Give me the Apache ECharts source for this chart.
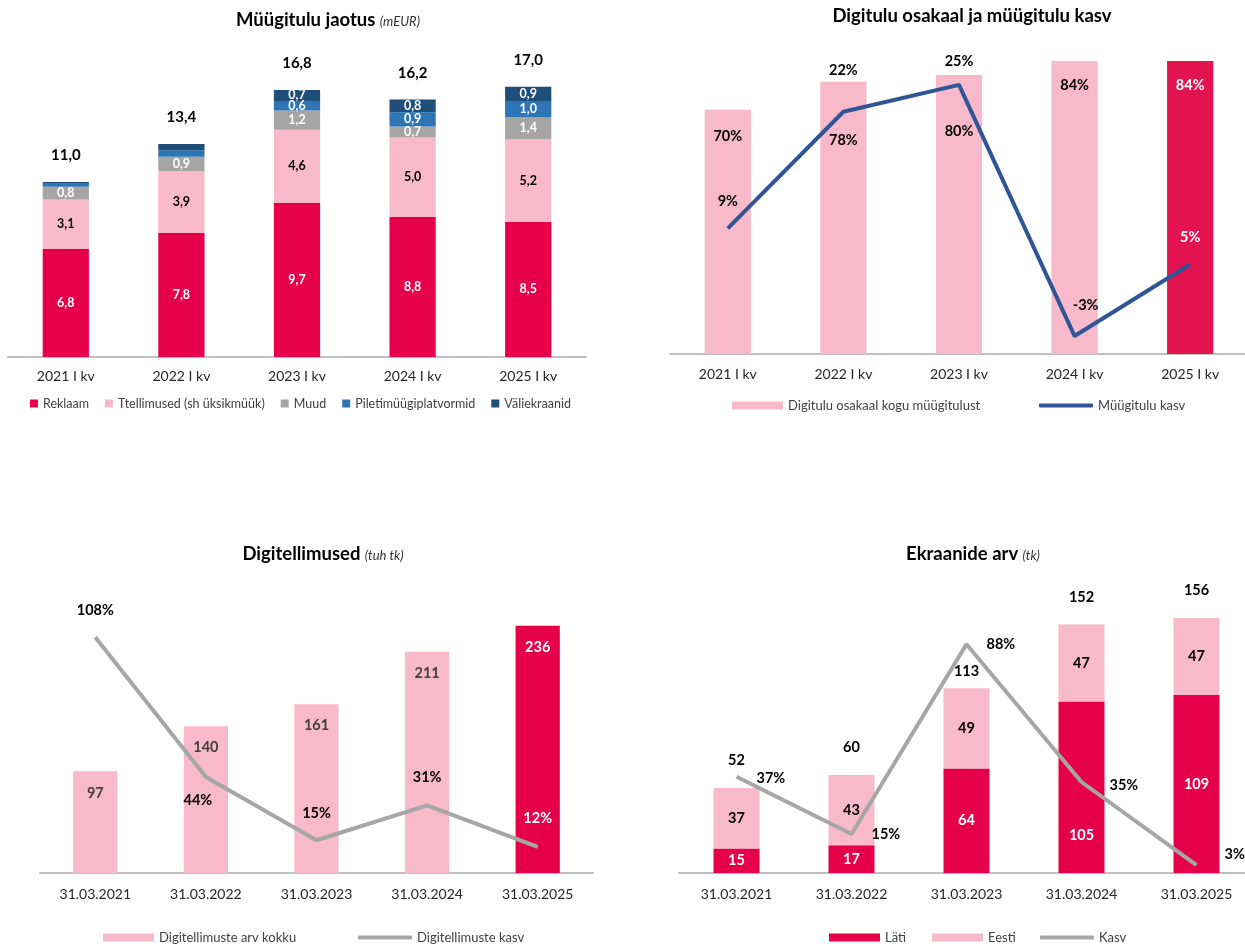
<!DOCTYPE html>
<html>
<head>
<meta charset="utf-8">
<script src="https://cdn.jsdelivr.net/npm/echarts@6/dist/echarts.min.js"></script>
<style>html,body{margin:0;padding:0;background:#fff}#c{width:1245px;height:944px}</style>
</head>
<body>
<div id="c"></div>
<script>
// ---------- DATA ----------
// Chart 1: Müügitulu jaotus (mEUR)
const quarters = ['2021 I kv', '2022 I kv', '2023 I kv', '2024 I kv', '2025 I kv'];
const reklaam = [6.8, 7.8, 9.7, 8.8, 8.5];
const tellimused = [3.1, 3.9, 4.6, 5.0, 5.2];
const muud = [0.8, 0.9, 1.2, 0.7, 1.4];
const piletiplatvormid = [0.2, 0.4, 0.6, 0.9, 1.0];
const valiekraanid = [0.1, 0.4, 0.7, 0.8, 0.9];
const revenueTotals = [11.0, 13.4, 16.8, 16.2, 17.0];

// Chart 2: Digitulu osakaal ja müügitulu kasv
const digiShare = [70, 78, 80, 84, 84];
const revenueGrowth = [9, 22, 25, -3, 5];

// Chart 3: Digitellimused (tuh tk)
const subDates = ['31.03.2021', '31.03.2022', '31.03.2023', '31.03.2024', '31.03.2025'];
const digiSubs = [97, 140, 161, 211, 236];
const digiSubsGrowth = [108, 44, 15, 31, 12];

// Chart 4: Ekraanide arv (tk)
const screenDates = ['31.03.2021', '31.03.2022', '31.03.2023', '31.03.2024', '31.03.2025'];
const lati = [15, 17, 64, 105, 109];
const eesti = [37, 43, 49, 47, 47];
const screenTotals = [52, 60, 113, 152, 156];
const screenGrowth = [37, 15, 88, 35, 3];

// ---------- STYLE ----------
const FONT = 'Lato';
const CRIMSON = '#E6004C', CRIMSON2 = '#E2134F', PINK = '#F8B9CA', GRAY = '#A5A5A5',
      BLUE = '#2E75B6', DARK = '#1F4E79', LINEBLUE = '#2F5597', LINEGRAY = '#A6A6A6';
const fmt1 = v => v.toFixed(1).replace('.', ',');

function xAxis(gridIndex, data, margin) {
  return {
    type: 'category', gridIndex, data,
    axisLine: { onZero: false, lineStyle: { color: '#BFBFBF', width: 2 } },
    axisTick: { show: false },
    axisLabel: { fontSize: 14, color: '#262626', margin, fontFamily: FONT }
  };
}
function yAxis(gridIndex, min, max) {
  return { type: 'value', gridIndex, min, max, show: false, splitLine: { show: false } };
}
function title(text, cx, top) {
  return {
    text, left: cx, top, padding: 0, textAlign: 'center',
    textStyle: {
      fontFamily: FONT,
      rich: {
        a: { fontSize: 18.5, fontWeight: 'bold', color: '#000', fontFamily: FONT },
        b: { fontSize: 13, fontWeight: 'normal', fontStyle: 'italic', color: '#333', fontFamily: FONT, padding: [3, 0, 0, 0] }
      }
    }
  };
}
function legend(data, left, top, w, h, icon, gap, size) {
  return {
    data, left, top, padding: 0, itemWidth: w, itemHeight: h, itemGap: gap || 16, icon,
    selectedMode: false,
    textStyle: { fontSize: size || 13, color: '#404040', fontFamily: FONT }
  };
}
const boldLbl = (color, size) => ({ show: true, color, fontWeight: 'bold', fontSize: size || 14, fontFamily: FONT });

// chart 1 segments
function seg(name, data, color, labelColor) {
  return {
    name, type: 'bar', stack: 'rev', xAxisIndex: 0, yAxisIndex: 0, barWidth: '40%', barGap: '-100%',
    itemStyle: { color },
    label: Object.assign(boldLbl(labelColor, 12.5), { position: 'inside', formatter: p => fmt1(p.value) }),
    data: data.map(v => ({ value: v, label: { show: v >= 0.5 } }))
  };
}

// label placement tweaks (positions only)
const c2BarDist = [19, 51, 49, 17, 17];
const c2LineLbl = [
  { distance: 20 }, { distance: 34 }, { distance: 16 }, { distance: 23, offset: [11, 0] }, { distance: 19, color: '#fff' }
];
const c3LineLbl = [
  { distance: 19 }, { position: 'bottom', distance: 16, offset: [-8, 0] }, { distance: 19 }, { distance: 20 }, { distance: 21, color: '#fff' }
];
const c4TotalDist = [20, 20, 9, 20, 20];
const c4LatiOffset = [0, 0, 0, 48, 0];
const c4LineLbl = [
  { offset: [0, 2] }, {}, {}, { distance: 28, offset: [0, 3] }, { distance: 28, offset: [0, -11] }
];
const last = digiShare.length - 1;

const option = {
  animation: false,
  textStyle: { fontFamily: FONT },
  title: [
    title('{a|Müügitulu jaotus} {b|(mEUR)}', 328, 11),
    title('{a|Digitulu osakaal ja müügitulu kasv}', 972, 7),
    title('{a|Digitellimused} {b|(tuh tk)}', 323, 545),
    title('{a|Ekraanide arv} {b|(tk)}', 973, 545)
  ],
  legend: [
    legend(['Reklaam', 'Ttellimused (sh üksikmüük)', 'Muud', 'Piletimüügiplatvormid', 'Väliekraanid'], 30, 397, 8, 8, 'rect', 16, 12.5),
    legend(['Digitulu osakaal kogu müügitulust'], 732, 399, 51, 8, 'rect'),
    legend(['Müügitulu kasv'], 1039, 399, 54, 4, 'roundRect'),
    legend(['Digitellimuste arv kokku'], 103, 931, 51, 8, 'rect'),
    legend(['Digitellimuste kasv'], 358, 931, 54, 4, 'roundRect'),
    legend(['Läti', 'Eesti'], 829, 931, 51, 8, 'rect', 26),
    legend(['Kasv'], 1040, 931, 54, 4, 'roundRect')
  ],
  grid: [
    { left: 8, width: 578, top: 39, height: 318, outerBoundsMode: 'none' },
    { left: 670, width: 578, top: 40, height: 314, outerBoundsMode: 'none' },
    { left: 40, width: 553, top: 611, height: 262, outerBoundsMode: 'none' },
    { left: 679, width: 575, top: 587, height: 286, outerBoundsMode: 'none' }
  ],
  xAxis: [
    xAxis(0, quarters, 12),
    xAxis(1, quarters, 13),
    xAxis(2, subDates, 14),
    xAxis(3, screenDates, 14)
  ],
  yAxis: [
    yAxis(0, 0, 20),
    yAxis(1, 0, 90),
    yAxis(1, -5, 30),
    yAxis(2, 0, 250),
    yAxis(2, 0, 120),
    yAxis(3, 0, 175),
    yAxis(3, 0, 110)
  ],
  series: [
    // ---- chart 1 ----
    seg('Reklaam', reklaam, CRIMSON, '#fff'),
    seg('Ttellimused (sh üksikmüük)', tellimused, PINK, '#000'),
    seg('Muud', muud, GRAY, '#fff'),
    seg('Piletimüügiplatvormid', piletiplatvormid, BLUE, '#fff'),
    seg('Väliekraanid', valiekraanid, DARK, '#fff'),
    {
      name: 'revTotal', type: 'bar', xAxisIndex: 0, yAxisIndex: 0, barWidth: '40%', barGap: '-100%',
      silent: true, itemStyle: { color: 'rgba(0,0,0,0)' }, data: revenueTotals,
      label: Object.assign(boldLbl('#000', 15), { position: 'top', distance: 19, formatter: p => fmt1(p.value) })
    },
    // ---- chart 2 ----
    {
      name: 'Digitulu osakaal kogu müügitulust', type: 'bar', xAxisIndex: 1, yAxisIndex: 1, barWidth: '40%',
      itemStyle: { color: PINK },
      label: Object.assign(boldLbl('#000', 14.5), { position: 'insideTop', formatter: '{c}%' }),
      data: digiShare.map((v, i) => ({
        value: v,
        itemStyle: i === last ? { color: CRIMSON2 } : undefined,
        label: { distance: c2BarDist[i], color: i === last ? '#fff' : '#000' }
      }))
    },
    {
      name: 'Müügitulu kasv', type: 'line', xAxisIndex: 1, yAxisIndex: 2, z: 5,
      symbol: 'circle', symbolSize: 0, itemStyle: { color: LINEBLUE },
      lineStyle: { color: LINEBLUE, width: 4 },
      label: Object.assign(boldLbl('#000', 14.5), { position: 'top', formatter: '{c}%' }),
      data: revenueGrowth.map((v, i) => ({ value: v, label: c2LineLbl[i] }))
    },
    // ---- chart 3 ----
    {
      name: 'Digitellimuste arv kokku', type: 'bar', xAxisIndex: 2, yAxisIndex: 3, barWidth: '40%',
      itemStyle: { color: PINK },
      label: Object.assign(boldLbl('#404040', 14.5), { position: 'insideTop', distance: 14 }),
      data: digiSubs.map((v, i) => ({
        value: v,
        itemStyle: i === last ? { color: CRIMSON } : undefined,
        label: i === last ? { color: '#fff' } : undefined
      }))
    },
    {
      name: 'Digitellimuste kasv', type: 'line', xAxisIndex: 2, yAxisIndex: 4, z: 5,
      symbol: 'circle', symbolSize: 0, itemStyle: { color: LINEGRAY },
      lineStyle: { color: LINEGRAY, width: 4 },
      label: Object.assign(boldLbl('#000', 14.5), { position: 'top', formatter: '{c}%' }),
      data: digiSubsGrowth.map((v, i) => ({ value: v, label: c3LineLbl[i] }))
    },
    // ---- chart 4 ----
    {
      name: 'Läti', type: 'bar', stack: 'scr', xAxisIndex: 3, yAxisIndex: 5, barWidth: '40%', barGap: '-100%',
      itemStyle: { color: CRIMSON },
      label: Object.assign(boldLbl('#fff', 14.5), { position: 'inside' }),
      data: lati.map((v, i) => ({ value: v, label: { offset: [0, c4LatiOffset[i]] } }))
    },
    {
      name: 'Eesti', type: 'bar', stack: 'scr', xAxisIndex: 3, yAxisIndex: 5, barWidth: '40%', barGap: '-100%',
      itemStyle: { color: PINK },
      label: Object.assign(boldLbl('#000', 14.5), { position: 'inside' }),
      data: eesti
    },
    {
      name: 'scrTotal', type: 'bar', xAxisIndex: 3, yAxisIndex: 5, barWidth: '40%', barGap: '-100%',
      silent: true, itemStyle: { color: 'rgba(0,0,0,0)' },
      label: Object.assign(boldLbl('#000', 14.5), { position: 'top' }),
      data: screenTotals.map((v, i) => ({ value: v, label: { distance: c4TotalDist[i] } }))
    },
    {
      name: 'Kasv', type: 'line', xAxisIndex: 3, yAxisIndex: 6, z: 5,
      symbol: 'circle', symbolSize: 0, itemStyle: { color: LINEGRAY },
      lineStyle: { color: LINEGRAY, width: 4 },
      label: Object.assign(boldLbl('#000', 14.5), { position: 'right', distance: 20, formatter: '{c}%' }),
      data: screenGrowth.map((v, i) => ({ value: v, label: c4LineLbl[i] }))
    }
  ]
};

const chart = echarts.init(document.getElementById('c'));
chart.setOption(option);
</script>
</body>
</html>
